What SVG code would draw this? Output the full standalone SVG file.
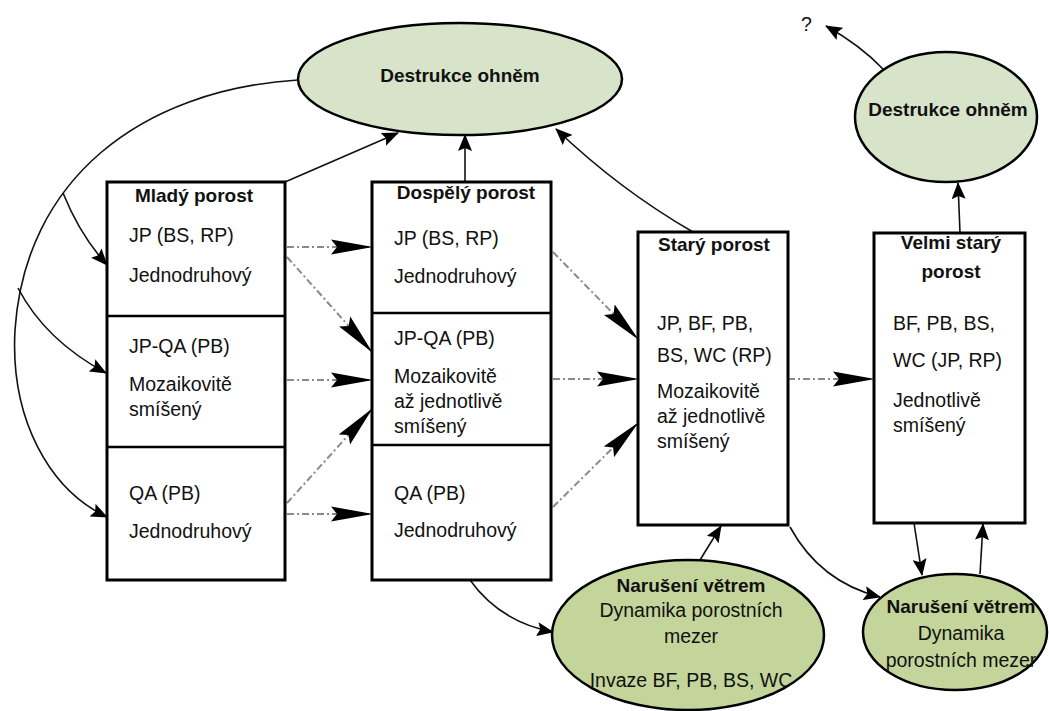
<svg xmlns="http://www.w3.org/2000/svg" width="1049" height="711" viewBox="0 0 1049 711">
<defs>
<marker id="ah" markerWidth="17" markerHeight="14" refX="16" refY="7" orient="auto" markerUnits="userSpaceOnUse">
<path d="M0,0 L17,7 L0,14 L3,7 z" fill="#000"/>
</marker>
<marker id="ahd" markerWidth="42" markerHeight="16" refX="41" refY="8" orient="auto" markerUnits="userSpaceOnUse">
<path d="M0,0.5 L42,8 L0,15.5 L6,8 z" fill="#000"/>
</marker>
<style>
.box{fill:#fff;stroke:#000;stroke-width:3}
.div{stroke:#000;stroke-width:2.5}
.fire{fill:#d8e4c9;stroke:#000;stroke-width:2.5}
.wind{fill:#c4d59b;stroke:#000;stroke-width:2.5}
.t{font-family:"Liberation Sans",Arial,sans-serif;font-size:19.5px;fill:#111}
.b{font-family:"Liberation Sans",Arial,sans-serif;font-size:19px;font-weight:bold;fill:#111}
.c{text-anchor:middle}
.sol{fill:none;stroke:#111;stroke-width:1.6;marker-end:url(#ah)}
.dash{fill:none;stroke:#8a8a8a;stroke-width:2;stroke-dasharray:7,3,2,3;marker-end:url(#ahd)}
</style>
</defs>
<rect width="1049" height="711" fill="#fff"/>

<g id="connectors">
<path class="sol" d="M298,80 C140,90 25,180 15,330 C10,420 50,490 107,517"/>
<path class="sol" d="M63,193 Q80,235 107,265"/>
<path class="sol" d="M18,288 Q45,340 106,373"/>
<path class="sol" d="M285,182 Q340,158 398,133"/>
<path class="sol" d="M465,182 L465,135"/>
<path class="sol" d="M693,232 Q620,190 556,129"/>
<path class="sol" d="M470,580 Q500,622 553,632"/>
<path class="sol" d="M700,560 L721,526"/>
<path class="sol" d="M790,527 Q820,582 880,597"/>
<path class="sol" d="M914,523 L922,575"/>
<path class="sol" d="M980,574 L983,524"/>
<path class="sol" d="M960,233 L958,183"/>
<path class="sol" d="M883,69 Q860,45 826,26"/>

<path class="dash" d="M287,247 L372,247"/>
<path class="dash" d="M287,257 L372,352"/>
<path class="dash" d="M287,380 L372,380"/>
<path class="dash" d="M287,503 L372,409"/>
<path class="dash" d="M287,514 L372,514"/>
<path class="dash" d="M553,252 L638,339"/>
<path class="dash" d="M553,379 L638,379"/>
<path class="dash" d="M553,507 L638,423"/>
<path class="dash" d="M788,379 L874,379"/>
</g>

<g id="fire1">
<ellipse class="fire" cx="460" cy="79" rx="162" ry="56"/>
<text class="b c" x="460" y="82">Destrukce ohněm</text>
</g>

<g id="fire2">
<ellipse class="fire" cx="946" cy="117" rx="91" ry="65"/>
<text class="b c" x="948" y="116">Destrukce ohněm</text>
</g>

<g id="q">
<text class="t" x="801" y="31">?</text>
</g>

<g id="mlady">
<rect class="box" x="107" y="182" width="178" height="398"/>
<line class="div" x1="107" y1="316" x2="285" y2="316"/>
<line class="div" x1="107" y1="447" x2="285" y2="447"/>
<text class="b c" x="194" y="202">Mladý porost</text>
<text class="t" x="129" y="242">JP (BS, RP)</text>
<text class="t" x="129" y="282">Jednodruhový</text>
<text class="t" x="129" y="353">JP-QA (PB)</text>
<text class="t" x="129" y="391">Mozaikovitě</text>
<text class="t" x="129" y="416">smíšený</text>
<text class="t" x="129" y="500">QA (PB)</text>
<text class="t" x="129" y="538">Jednodruhový</text>
</g>

<g id="dospely">
<rect class="box" x="372" y="182" width="179" height="398"/>
<line class="div" x1="372" y1="313" x2="551" y2="313"/>
<line class="div" x1="372" y1="445" x2="551" y2="445"/>
<text class="b c" x="466" y="199">Dospělý porost</text>
<text class="t" x="394" y="245">JP (BS, RP)</text>
<text class="t" x="394" y="283">Jednodruhový</text>
<text class="t" x="394" y="345">JP-QA (PB)</text>
<text class="t" x="394" y="383">Mozaikovitě</text>
<text class="t" x="394" y="408">až jednotlivě</text>
<text class="t" x="394" y="433">smíšený</text>
<text class="t" x="394" y="500">QA (PB)</text>
<text class="t" x="394" y="537">Jednodruhový</text>
</g>

<g id="stary">
<rect class="box" x="638" y="232" width="150" height="293"/>
<text class="b c" x="714" y="251">Starý porost</text>
<text class="t" x="657" y="330">JP, BF, PB,</text>
<text class="t" x="657" y="362">BS, WC (RP)</text>
<text class="t" x="657" y="398">Mozaikovitě</text>
<text class="t" x="657" y="423">až jednotlivě</text>
<text class="t" x="657" y="448">smíšený</text>
</g>

<g id="velmi">
<rect class="box" x="874" y="233" width="151" height="290"/>
<text class="b c" x="951" y="249">Velmi starý</text>
<text class="b c" x="951" y="278">porost</text>
<text class="t" x="893" y="330">BF, PB, BS,</text>
<text class="t" x="893" y="367">WC (JP, RP)</text>
<text class="t" x="893" y="407">Jednotlivě</text>
<text class="t" x="893" y="432">smíšený</text>
</g>

<g id="wind1">
<ellipse class="wind" cx="688" cy="635" rx="136" ry="75"/>
<text class="b c" x="691" y="592">Narušení větrem</text>
<text class="t c" x="691" y="617">Dynamika porostních</text>
<text class="t c" x="691" y="643">mezer</text>
<text class="t c" x="691" y="687">Invaze BF, PB, BS, WC</text>
</g>

<g id="wind2">
<ellipse class="wind" cx="955" cy="632" rx="92" ry="58"/>
<text class="b c" x="961" y="613">Narušení větrem</text>
<text class="t c" x="961" y="640">Dynamika</text>
<text class="t c" x="961" y="667">porostních mezer</text>
</g>
</svg>
